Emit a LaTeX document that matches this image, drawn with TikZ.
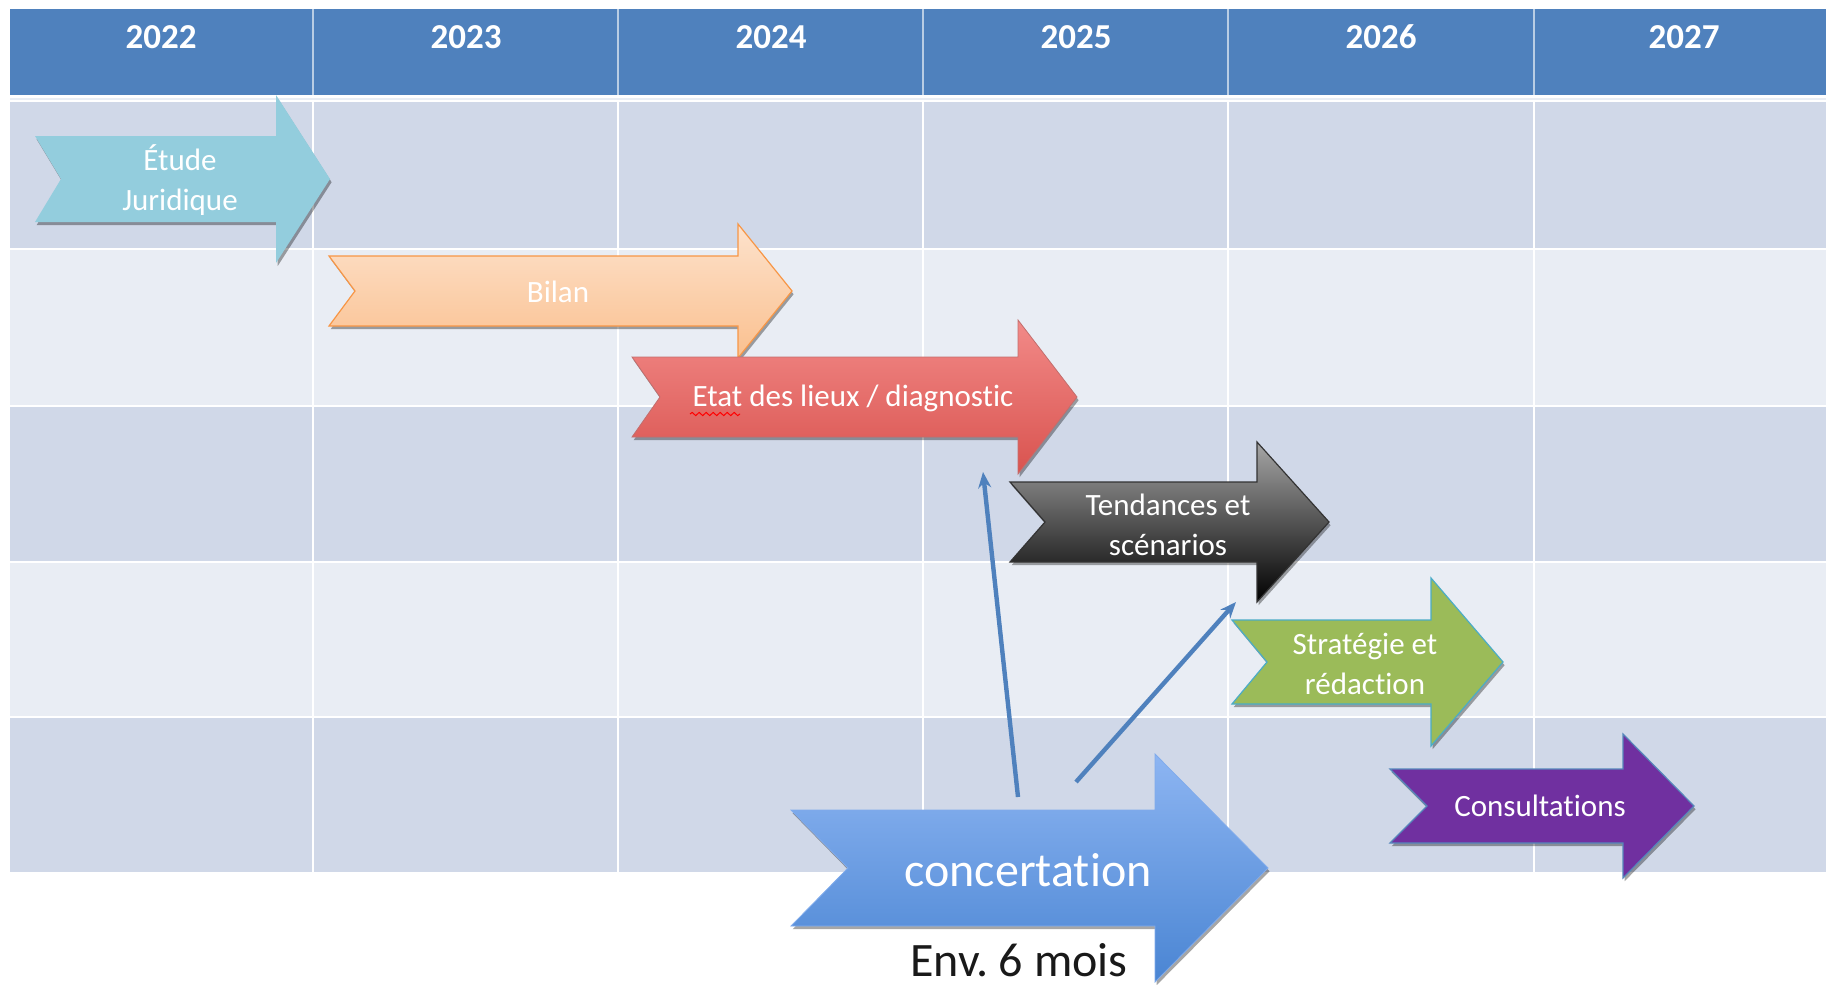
\documentclass[tikz,border=0pt]{standalone}
\usepackage{fontspec}
\setmainfont{Carlito}[Ligatures=NoCommon]
\usetikzlibrary{arrows.meta,shadows,decorations.pathmorphing}
\frenchspacing

\definecolor{headblue}{HTML}{4F81BD}
\definecolor{rowdark}{HTML}{D0D8E8}
\definecolor{rowlight}{HTML}{E9EDF4}
\definecolor{etudeblue}{HTML}{93CDDD}
\definecolor{bilantop}{HTML}{FDE2CC}
\definecolor{bilanbot}{HTML}{FAC08F}
\definecolor{bilanedge}{HTML}{F79646}
\definecolor{etattop}{HTML}{F28A88}
\definecolor{etatbot}{HTML}{D9534F}
\definecolor{tendtop}{HTML}{A6A6A6}
\definecolor{stratgreen}{HTML}{9BBB59}
\definecolor{stratedge}{HTML}{4BACC6}
\definecolor{consultpurple}{HTML}{7030A0}
\definecolor{concerttop}{HTML}{8DB5F2}
\definecolor{concertbot}{HTML}{4A85D3}

\tikzset{
  phaseshadow/.style={drop shadow={shadow xshift=0.8pt,shadow yshift=-1.6pt,fill=black,opacity=0.35}},
  yearlabel/.style={text=white,inner sep=0pt,font=\fontsize{17.5}{20}\selectfont\bfseries},
  phaselabel/.style={text=white,align=center,inner sep=0pt,font=\fontsize{15.5}{20}\selectfont},
  link/.style={draw=headblue,line width=2.2pt,-{Stealth[length=8pt,width=6.5pt]}},
  etudearrow/.style={fill=etudeblue,phaseshadow},
  bilanarrow/.style={top color=bilantop,bottom color=bilanbot,draw=bilanedge,line width=0.6pt,phaseshadow},
  etatarrow/.style={top color=etattop,bottom color=etatbot,draw=etattop!80!black,line width=0.4pt,phaseshadow},
  tendarrow/.style={top color=tendtop,bottom color=black,draw=black!80,line width=0.6pt,phaseshadow},
  stratarrow/.style={fill=stratgreen,draw=stratedge,line width=0.6pt,phaseshadow},
  consultarrow/.style={fill=consultpurple,draw=stratedge!70!consultpurple,line width=0.6pt,phaseshadow},
  concertarrow/.style={top color=concerttop,bottom color=concertbot,draw=concerttop!80!concertbot,line width=0.4pt,phaseshadow},
}

% #1 style, #2 tail x, #3 notch depth, #4 head base x, #5 tip x,
% #6 centre y, #7 half body height, #8 half head height
\newcommand\phasearrow[8]{%
  \path[#1] (#2,#6-#7) -- (#4,#6-#7) -- (#4,#6-#8) -- (#5,#6)
    -- (#4,#6+#8) -- (#4,#6+#7) -- (#2,#6+#7) -- (#2+#3,#6) -- cycle;}

\begin{document}
\begin{tikzpicture}[x=0.5pt,y=-0.5pt]
    \useasboundingbox (0,0) rectangle (1826,985);
    % table
    \fill [headblue] (10,9) rectangle (1826,95);
    \draw [rowlight,line width=1pt] (10,98.5) -- (1826,98.5);
    \fill [rowdark] (10,102) rectangle (1826,249);
    \fill [rowlight] (10,249) rectangle (1826,406);
    \fill [rowdark] (10,406) rectangle (1826,562);
    \fill [rowlight] (10,562) rectangle (1826,717);
    \fill [rowdark] (10,717) rectangle (1826,872);
    \draw [white,line width=1.2pt] (10,249) -- (1826,249);
    \draw [white,line width=1.2pt] (10,406) -- (1826,406);
    \draw [white,line width=1.2pt] (10,562) -- (1826,562);
    \draw [white,line width=1.2pt] (10,717) -- (1826,717);
    \draw [white,line width=0.8pt] (313,102) -- (313,872);
    \draw [white,line width=0.8pt] (618,102) -- (618,872);
    \draw [white,line width=0.8pt] (923,102) -- (923,872);
    \draw [white,line width=0.8pt] (1228,102) -- (1228,872);
    \draw [white,line width=0.8pt] (1534,102) -- (1534,872);
    \draw [white!60!headblue,line width=0.8pt] (313,9) -- (313,95);
    \draw [white!60!headblue,line width=0.8pt] (618,9) -- (618,95);
    \draw [white!60!headblue,line width=0.8pt] (923,9) -- (923,95);
    \draw [white!60!headblue,line width=0.8pt] (1228,9) -- (1228,95);
    \draw [white!60!headblue,line width=0.8pt] (1534,9) -- (1534,95);
    \node (y2022) at (161,37) [yearlabel] {2022};
    \node (y2023) at (466,37) [yearlabel] {2023};
    \node (y2024) at (771,37) [yearlabel] {2024};
    \node (y2025) at (1076,37) [yearlabel] {2025};
    \node (y2026) at (1381,37) [yearlabel] {2026};
    \node (y2027) at (1684,37) [yearlabel] {2027};
    % phases
    \phasearrow{etudearrow}{35}{26}{276}{330}{179}{43}{84}
    \phasearrow{bilanarrow}{329}{26}{738}{792}{291}{35}{67}
    \phasearrow{etatarrow}{632}{28}{1018}{1077}{397}{40}{77}
    \phasearrow{tendarrow}{1010}{35}{1257}{1329}{522}{40}{80}
    \phasearrow{stratarrow}{1232}{35}{1431}{1503}{662}{42}{84}
    \phasearrow{consultarrow}{1390}{37}{1623}{1694}{806}{37}{72}
    \phasearrow{concertarrow}{791}{57}{1155}{1268}{868}{58}{114}
    \node (etude) at (180,180) [phaselabel] {Étude\\Juridique};
    \node (bilan) at (558,292) [phaselabel] {Bilan};
    \node (etat) at (853,398) [phaselabel] {Etat des lieux / diagnostic};
    \node (tendances) at (1168,525) [phaselabel] {Tendances et\\scénarios};
    \node (strategie) at (1365,664) [phaselabel] {Stratégie et\\rédaction};
    \node (consult) at (1540,806) [phaselabel] {Consultations};
    \node (concert) at (1028,870) [phaselabel,font=\fontsize{24}{28}\selectfont] {concertation};
    \node (env) at (1019,960) [inner sep=0pt,text=black!90,font=\fontsize{24}{28}\selectfont] {Env. 6 mois};
    \draw [red,line width=0.5pt,decorate,decoration={snake,amplitude=0.8pt,segment length=3.5pt}] (690,414) -- (740,414);
    % links from concertation
    \coordinate (cs1) at (1018,797);
    \coordinate (cs2) at (1076,782);
    \coordinate (ce1) at (983,472);
    \coordinate (ce2) at (1236,602);
    \draw [link] (cs1) to (ce1);
    \draw [link] (cs2) to (ce2);
\end{tikzpicture}
\end{document}
